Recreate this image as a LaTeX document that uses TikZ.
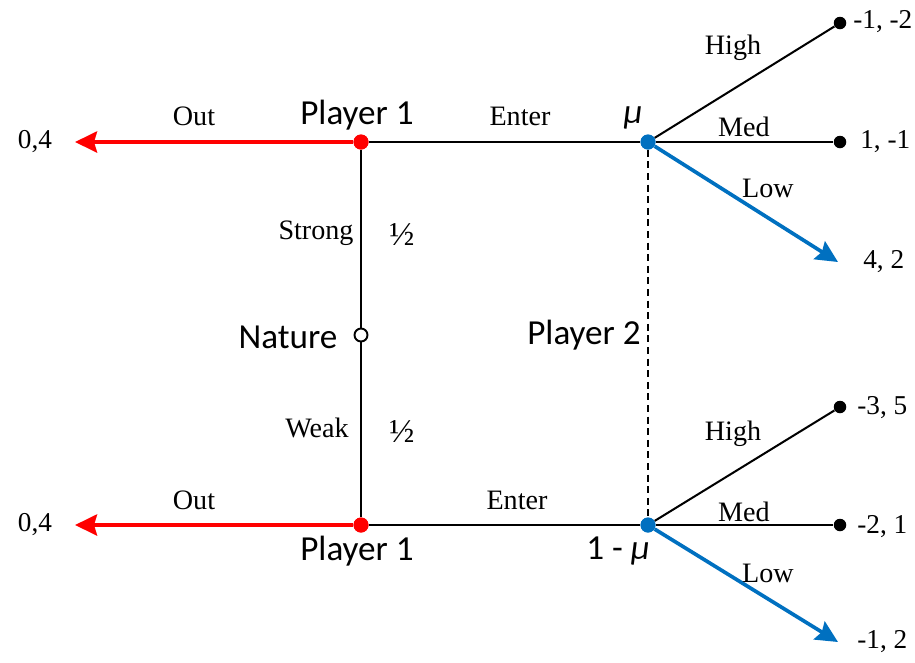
\documentclass[tikz,border=0pt]{standalone}
\usepackage{fontspec}
\setmainfont{Liberation Serif}
\newfontfamily\calfont{Carlito}
\usepackage{tikz}
\usetikzlibrary{arrows.meta, positioning}
\usepackage{xcolor}
\definecolor{oRed}{RGB}{255,0,0}
\definecolor{oBlue}{RGB}{0,112,192}

\begin{document}
\begin{tikzpicture}[
        >=Stealth,
        dot/.style={circle, fill=black, inner sep=0pt, minimum size=0.25cm},
        reddot/.style={circle, fill=oRed, inner sep=0pt, minimum size=0.3cm},
        bluedot/.style={circle, fill=oBlue, inner sep=0pt, minimum size=0.3cm},
        chance/.style={circle, draw=black, fill=white, line width=1.1pt, inner sep=0pt, minimum size=0.26cm},
        edge/.style={draw, line width=1.15pt},
        redarrow/.style={draw=oRed, line width=2.3pt, -{Stealth[length=0.44cm, width=0.42cm, inset=0.06cm]}},
        bluearrow/.style={draw=oBlue, line width=2.1pt, -{Stealth[length=0.44cm, width=0.42cm, inset=0.06cm]}},
        lbl/.style={font=\fontsize{16}{19}\selectfont},
        pay/.style={font=\fontsize{15.5}{19}\selectfont, anchor=west, inner sep=0pt},
        who/.style={font=\calfont\fontsize{20}{24}\selectfont}
    ]
        \useasboundingbox (0,0) rectangle (18.3,-13.24);

        % ================= NODES =================
        \node[chance] (nat) at (7.22, -6.7) {};
        \node[reddot] (p1s) at (7.22, -2.84) {};
        \node[reddot] (p1w) at (7.22, -10.5) {};
        \node[bluedot] (p2s) at (12.96, -2.84) {};
        \node[bluedot] (p2w) at (12.96, -10.5) {};

        \coordinate (outs) at (1.5, -2.84);
        \coordinate (outw) at (1.5, -10.5);

        \node[dot] (hs) at (16.8, -0.46) {};
        \node[dot] (ms) at (16.8, -2.84) {};
        \coordinate (ls) at (16.76, -5.24);
        \node[dot] (hw) at (16.8, -8.14) {};
        \node[dot] (mw) at (16.8, -10.5) {};
        \coordinate (lw) at (16.76, -12.84);

        % ================= BRANCHES =================
        \path[edge, line width=1.4pt] (p1s) -- (nat) -- (p1w);
        \path[edge] (p1s) -- (p2s);
        \path[edge] (p1w) -- (p2w);
        \draw[line width=1.5pt, dash pattern=on 4pt off 2.6pt] (p2s) -- (p2w);

        \path[redarrow] (p1s) -- (outs);
        \path[redarrow] (p1w) -- (outw);

        \path[edge] (p2s) -- (hs);
        \path[edge] (p2s) -- (ms);
        \path[bluearrow] (p2s) -- (ls);
        \path[edge] (p2w) -- (hw);
        \path[edge] (p2w) -- (mw);
        \path[bluearrow] (p2w) -- (lw);

        % redraw the dots on top of the lines
        \node[reddot] at (p1s) {};
        \node[reddot] at (p1w) {};
        \node[bluedot] at (p2s) {};
        \node[bluedot] at (p2w) {};

        % ================= LABELS =================
        \node[who] (p1slbl) at (7.14, -2.3) {Player 1};
        \node[who] (p1wlbl) at (7.14, -11.02) {Player 1};
        \node[who] (natlbl) at (5.76, -6.74) {Nature};
        \node[who] (p2lbl) at (11.68, -6.7) {Player 2};
        \node[who] (mus) at (12.66, -2.36) {\itshape μ};
        \node[who] (muw) at (12.36, -11.02) {1 - {\itshape μ}};

        \node[lbl] (outslbl) at (3.88, -2.32) {Out};
        \node[lbl] (outwlbl) at (3.88, -10.0) {Out};
        \node[lbl] (ents) at (10.4, -2.32) {Enter};
        \node[lbl] (entw) at (10.34, -10.0) {Enter};
        \node[lbl] (strong) at (6.32, -4.66) {Strong};
        \node[lbl] (weak) at (6.34, -8.56) {Weak};
        \node[lbl, font=\fontsize{19}{22}\selectfont] (prs) at (8.04, -4.7) {½};
        \node[lbl, font=\fontsize{19}{22}\selectfont] (prw) at (8.04, -8.64) {½};

        \node[lbl] (highs) at (14.66, -0.96) {High};
        \node[lbl] (meds) at (14.88, -2.54) {Med};
        \node[lbl] (lows) at (15.36, -3.76) {Low};
        \node[lbl] (highw) at (14.66, -8.68) {High};
        \node[lbl] (medw) at (14.88, -10.24) {Med};
        \node[lbl] (loww) at (15.36, -11.46) {Low};

        % ================= PAYOFFS =================
        \node[pay, anchor=center] (pos) at (0.7, -2.84) {0,4};
        \node[pay, anchor=center] (pow) at (0.7, -10.5) {0,4};
        \node[pay] (phs) at (17.06, -0.44) {-1, -2};
        \node[pay] (pms) at (17.2, -2.84) {1, -1};
        \node[pay] (pls) at (17.26, -5.24) {4, 2};
        \node[pay] (phw) at (17.14, -8.16) {-3, 5};
        \node[pay] (pmw) at (17.14, -10.54) {-2, 1};
        \node[pay] (plw) at (17.14, -12.84) {-1, 2};
    \end{tikzpicture}
\end{document}
